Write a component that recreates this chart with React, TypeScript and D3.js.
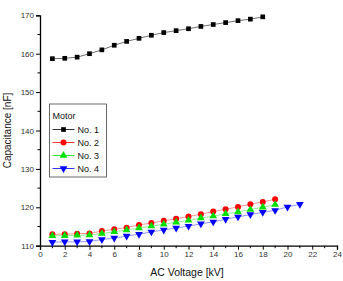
import { useRef, useEffect } from "react";
import * as d3 from "d3";

const voltage = d3.range(1, 22);
const motor1 = [158.7, 158.8, 159.1, 160.0, 161.0, 162.2, 163.2, 164.0, 164.8, 165.5, 166.0, 166.5, 167.1, 167.6, 168.1, 168.6, 169.0, 169.6];
const motor2 = [113.0, 113.0, 113.1, 113.2, 113.8, 114.3, 114.7, 115.4, 115.9, 116.5, 117.0, 117.6, 118.2, 118.9, 119.5, 120.1, 120.8, 121.4, 122.1];
const motor3 = [112.6, 112.6, 112.7, 112.8, 113.2, 113.6, 114.1, 114.6, 115.1, 115.6, 116.1, 116.6, 117.2, 117.7, 118.3, 118.8, 119.4, 120.0, 120.7];
const motor4 = [110.9, 111.0, 111.0, 111.1, 111.6, 112.0, 112.5, 113.0, 113.6, 114.1, 114.6, 115.1, 115.7, 116.2, 116.9, 117.5, 118.1, 118.7, 119.2, 120.1, 120.8];
const seriesNames = ["No. 1", "No. 2", "No. 3", "No. 4"];
const xTicks = d3.range(0, 25, 2);
const yTicks = [110, 120, 130, 140, 150, 160, 170];

export default function App() {
  const ref = useRef<SVGSVGElement>(null);

  useEffect(() => {
    const svg = d3.select(ref.current);
    svg.selectAll("*").remove();
    const font = "Liberation Sans, Arial, sans-serif";

    const x = d3.scaleLinear().domain([0, 24]).range([40, 337]);
    const y = d3.scaleLinear().domain([110, 170]).range([245.7, 15.3]);

    const series = [
      { name: seriesNames[0], values: motor1, color: "#000000", marker: "square" },
      { name: seriesNames[1], values: motor2, color: "#ff0000", marker: "circle" },
      { name: seriesNames[2], values: motor3, color: "#00e000", marker: "up" },
      { name: seriesNames[3], values: motor4, color: "#0000ff", marker: "down" },
    ];

    const symbolFor = (m: string) => {
      if (m === "square") return d3.symbol().type(d3.symbolSquare).size(22);
      if (m === "circle") return d3.symbol().type(d3.symbolCircle).size(28);
      return d3.symbol().type(d3.symbolTriangle).size(26);
    };

    // axes
    const xAxis = svg
      .append("g")
      .attr("transform", `translate(0,${y(110)})`)
      .call(d3.axisBottom(x).tickValues(xTicks).tickSize(4).tickPadding(2));
    xAxis
      .append("g")
      .selectAll("line")
      .data(d3.range(1, 24, 2))
      .join("line")
      .attr("x1", (d) => x(d))
      .attr("x2", (d) => x(d))
      .attr("y2", 2.5)
      .attr("stroke", "#000");

    const yAxis = svg
      .append("g")
      .attr("transform", `translate(${x(0)},0)`)
      .call(d3.axisLeft(y).tickValues(yTicks).tickSize(4).tickPadding(2));
    yAxis
      .append("g")
      .selectAll("line")
      .data(d3.range(115, 170, 10))
      .join("line")
      .attr("y1", (d) => y(d))
      .attr("y2", (d) => y(d))
      .attr("x2", -2.5)
      .attr("stroke", "#000");

    for (const ax of [xAxis, yAxis]) {
      ax.select(".domain").attr("stroke-width", 1.3);
      ax.selectAll(".tick text")
        .attr("font-family", font)
        .attr("font-size", 8)
        .attr("fill", "#333");
    }

    svg
      .append("text")
      .attr("x", 187)
      .attr("y", 276)
      .attr("text-anchor", "middle")
      .attr("font-family", font)
      .attr("font-size", 10.5)
      .attr("fill", "#111")
      .text("AC Voltage [kV]");

    svg
      .append("text")
      .attr("transform", `translate(11,${y(140)}) rotate(-90)`)
      .attr("text-anchor", "middle")
      .attr("font-family", font)
      .attr("font-size", 10)
      .attr("fill", "#111")
      .text("Capacitance [nF]");

    // lines and markers
    const line = d3
      .line<number>()
      .x((_, i) => x(voltage[i]))
      .y((d) => y(d));

    series.forEach((s) => {
      const g = svg.append("g");
      g.append("path")
        .attr("d", line(s.values))
        .attr("fill", "none")
        .attr("stroke", s.color)
        .attr("stroke-width", 0.7)
        .attr("stroke-opacity", s.marker === "square" ? 0.8 : 0.6);
      g.selectAll("path.pt")
        .data(s.values)
        .join("path")
        .attr("class", "pt")
        .attr("d", symbolFor(s.marker)()!)
        .attr(
          "transform",
          (d, i) => `translate(${x(voltage[i])},${y(d)})${s.marker === "down" ? " rotate(180)" : ""}`
        )
        .attr("fill", s.color);
    });

    // legend
    const lg = svg.append("g").attr("transform", "translate(49.5,104)");
    lg.append("rect")
      .attr("width", 57)
      .attr("height", 73)
      .attr("fill", "#fff")
      .attr("stroke", "#444")
      .attr("stroke-width", 0.8);
    lg.append("text")
      .attr("x", 3)
      .attr("y", 15)
      .attr("font-family", font)
      .attr("font-size", 9)
      .attr("fill", "#111")
      .text("Motor");
    series.forEach((s, i) => {
      const cy = 25.5 + i * 13;
      lg.append("line")
        .attr("x1", 3)
        .attr("x2", 25)
        .attr("y1", cy)
        .attr("y2", cy)
        .attr("stroke", s.color)
        .attr("stroke-width", 0.8);
      lg.append("path")
        .attr("d", symbolFor(s.marker)()!)
        .attr("transform", `translate(14,${cy})${s.marker === "down" ? " rotate(180)" : ""}`)
        .attr("fill", s.color);
      lg.append("text")
        .attr("x", 28)
        .attr("y", cy + 3.3)
        .attr("font-family", font)
        .attr("font-size", 9)
        .attr("fill", "#111")
        .text(s.name);
    });
  }, []);

  return (
    <svg
      ref={ref}
      width={343}
      height={281}
      style={{ position: "absolute", left: 0, top: 0, background: "#fff" }}
    />
  );
}
